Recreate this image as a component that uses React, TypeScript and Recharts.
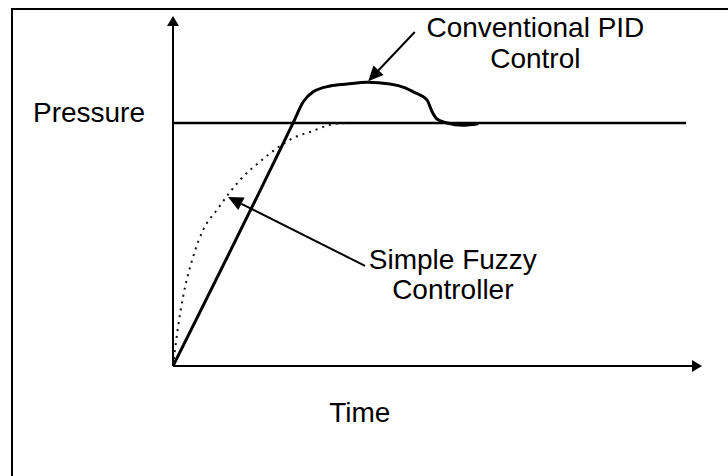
import {
  Line,
  LineChart,
  ReferenceDot,
  ReferenceLine,
  XAxis,
  YAxis,
} from "recharts";

// time runs 0..100, pressure is normalised so the setpoint is 1
const pidTime = [0, 22.7, 24.6, 26.5, 29.7, 32.9, 36.7, 41.0, 43.9, 45.4, 48.0, 49.0, 49.9, 51.8, 54.8, 57.7];
const pidPressure = [0, 1.0, 1.086, 1.128, 1.152, 1.16, 1.167, 1.16, 1.144, 1.128, 1.095, 1.045, 1.016, 1.0, 0.991, 0.997];

const fuzzyTime = [0, 0.95, 1.9, 3.8, 5.7, 8.3, 10.8, 13.2, 16.4, 19.7, 22.7, 25.9, 29.7, 32.5];
const fuzzyPressure = [0, 0.16, 0.284, 0.449, 0.56, 0.642, 0.716, 0.778, 0.84, 0.897, 0.938, 0.963, 0.992, 1.0];

const setpointTime = [0, 97];
const setpointPressure = [1, 1];

const pidData = pidTime.map((t, i) => ({ t, p: pidPressure[i] }));
const fuzzyData = fuzzyTime.map((t, i) => ({ t, p: fuzzyPressure[i] }));
const setpointData = setpointTime.map((t, i) => ({ t, p: setpointPressure[i] }));

const FONT = "'Liberation Sans', Arial, sans-serif";

// line with a filled arrowhead at its (x2, y2) end
function ArrowLine(props: any) {
  const { x1, y1, x2, y2, head = 14, half = 6, width = 2 } = props;
  const dx = x2 - x1;
  const dy = y2 - y1;
  const len = Math.sqrt(dx * dx + dy * dy) || 1;
  const ux = dx / len;
  const uy = dy / len;
  const bx = x2 - ux * head;
  const by = y2 - uy * head;
  const pts = `${x2},${y2} ${bx - uy * half},${by + ux * half} ${bx + uy * half},${by - ux * half}`;
  return (
    <g>
      <line x1={x1} y1={y1} x2={bx} y2={by} stroke="#000" strokeWidth={width} />
      <polygon points={pts} fill="#000" />
    </g>
  );
}

function note(lines: string[], anchor: string, dx: number, dy: number, gap = 30) {
  return (props: any) => (
    <g>
      {lines.map((l, i) => (
        <text
          key={i}
          x={props.cx + dx}
          y={props.cy + dy + i * gap}
          textAnchor={anchor}
          fontFamily={FONT}
          fontSize={28}
          fill="#000"
        >
          {l}
        </text>
      ))}
    </g>
  );
}

function App() {
  return (
    <div
      style={{
        position: "absolute",
        left: 0,
        top: 0,
        width: 728,
        height: 476,
        background: "#fff",
        overflow: "hidden",
      }}
    >
      <div
        style={{
          position: "absolute",
          left: 11,
          top: 8,
          right: -4,
          bottom: -4,
          borderLeft: "2px solid #000",
          borderTop: "2px solid #000",
        }}
      />
      <LineChart
        width={728}
        height={476}
        margin={{ top: 16, right: 26, left: 173, bottom: 110 }}
        style={{ position: "absolute", left: 0, top: 0 }}
      >
        <XAxis type="number" dataKey="t" domain={[0, 100]} hide allowDataOverflow />
        <YAxis type="number" dataKey="p" domain={[0, 1.44]} hide allowDataOverflow />

        <ReferenceLine
          segment={[{ x: 0, y: 0 }, { x: 100, y: 0 }]}
          shape={(p: any) => <ArrowLine {...p} head={10} half={6} width={2} />}
          ifOverflow="visible"
        />
        <ReferenceLine
          segment={[{ x: 0, y: 0 }, { x: 0, y: 1.44 }]}
          shape={(p: any) => <ArrowLine {...p} head={10} half={6} width={2} />}
          ifOverflow="visible"
        />

        <Line
          data={setpointData}
          dataKey="p"
          type="linear"
          stroke="#000"
          strokeWidth={2.5}
          dot={false}
          activeDot={false}
          isAnimationActive={false}
        />
        <Line
          data={fuzzyData}
          dataKey="p"
          type="monotone"
          stroke="#111"
          strokeWidth={2}
          strokeDasharray="2 5"
          dot={false}
          activeDot={false}
          isAnimationActive={false}
        />
        <Line
          data={pidData}
          dataKey="p"
          type="monotone"
          stroke="#000"
          strokeWidth={3}
          dot={false}
          activeDot={false}
          isAnimationActive={false}
        />

        <ReferenceLine
          segment={[{ x: 45.7, y: 1.374 }, { x: 36.9, y: 1.172 }]}
          shape={(p: any) => <ArrowLine {...p} head={15} half={7} width={2} />}
          ifOverflow="visible"
        />
        <ReferenceLine
          segment={[{ x: 36.3, y: 0.412 }, { x: 10.4, y: 0.695 }]}
          shape={(p: any) => <ArrowLine {...p} head={15} half={7} width={2} />}
          ifOverflow="visible"
        />

        <ReferenceDot x={0} y={1} ifOverflow="visible" shape={note(["Pressure"], "end", -28, -1)} />
        <ReferenceDot x={35.3} y={0} ifOverflow="visible" shape={note(["Time"], "middle", 0, 56)} />
        <ReferenceDot
          x={68.5}
          y={1.354}
          ifOverflow="visible"
          shape={note(["Conventional PID", "Control"], "middle", 0, 0, 31)}
        />
        <ReferenceDot
          x={52.9}
          y={0.395}
          ifOverflow="visible"
          shape={note(["Simple Fuzzy", "Controller"], "middle", 0, -1, 30)}
        />
      </LineChart>
    </div>
  );
}

export default App;
